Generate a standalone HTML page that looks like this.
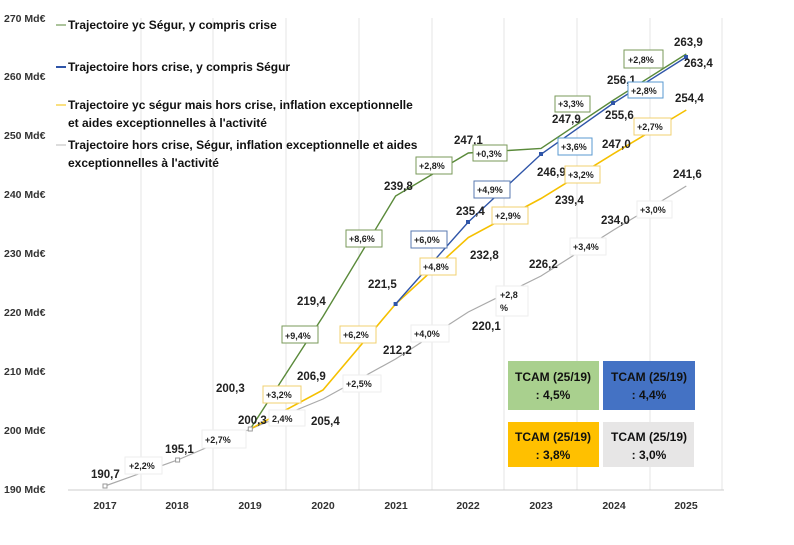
<!DOCTYPE html>
<html><head><meta charset="utf-8"><style>
body{margin:0;background:#fff;}
svg{display:block;font-family:"Liberation Sans",sans-serif;}
.v{font-size:11.5px;font-weight:bold;fill:#222;}
.p{font-size:9px;font-weight:bold;fill:#222;}
.ax{font-size:10.5px;font-weight:bold;fill:#333;}
.lg{font-size:12px;font-weight:bold;fill:#111;}
</style></head><body>
<svg width="794" height="545" viewBox="0 0 794 545">
<g stroke="#e4e4e4" stroke-width="1">
<line x1="141" y1="18" x2="141" y2="490"/><line x1="213" y1="18" x2="213" y2="490"/><line x1="286" y1="18" x2="286" y2="490"/><line x1="359" y1="18" x2="359" y2="490"/><line x1="432" y1="18" x2="432" y2="490"/><line x1="504" y1="18" x2="504" y2="490"/><line x1="577" y1="18" x2="577" y2="490"/><line x1="650" y1="18" x2="650" y2="490"/><line x1="722" y1="18" x2="722" y2="490"/>
</g>
<line x1="68" y1="490" x2="724" y2="490" stroke="#ccc"/>
<g class="ax">
<text x="4" y="22">270 Md€</text><text x="4" y="80">260 Md€</text><text x="4" y="139">250 Md€</text><text x="4" y="198">240 Md€</text><text x="4" y="257">230 Md€</text><text x="4" y="316">220 Md€</text><text x="4" y="375">210 Md€</text><text x="4" y="434">200 Md€</text><text x="4" y="493">190 Md€</text>
<g text-anchor="middle"><text x="105" y="509">2017</text><text x="177" y="509">2018</text><text x="250" y="509">2019</text><text x="323" y="509">2020</text><text x="396" y="509">2021</text><text x="468" y="509">2022</text><text x="541" y="509">2023</text><text x="614" y="509">2024</text><text x="686" y="509">2025</text></g>
</g>
<!-- legend -->
<line x1="56" y1="25" x2="66" y2="25" stroke="#5a8a3a"/><text class="lg" x="68" y="29">Trajectoire yc  Ségur, y compris crise</text>
<line x1="56" y1="67" x2="66" y2="67" stroke="#2f55a8" stroke-width="2"/><text class="lg" x="68" y="71">Trajectoire hors crise,  y compris  Ségur</text>
<line x1="56" y1="105" x2="66" y2="105" stroke="#f5c000"/><text class="lg" x="68" y="109">Trajectoire yc ségur mais hors crise, inflation exceptionnelle</text><text class="lg" x="68" y="127">et aides exceptionnelles à l'activité</text>
<line x1="56" y1="145" x2="66" y2="145" stroke="#bbb"/><text class="lg" x="68" y="149">Trajectoire hors crise, Ségur, inflation exceptionnelle et aides</text><text class="lg" x="68" y="167">exceptionnelles à l'activité</text>
<!-- series -->
<polyline fill="none" stroke="#aaa" stroke-width="1.2" points="105,486 177.6,460 250.3,429 323,399 395.6,359 468.3,312 541,276 613.6,230 686.3,186"/>
<polyline fill="none" stroke="#f5c000" stroke-width="1.6" points="250.3,429 323,390 395.6,304 468.3,237.5 541,198.5 613.6,153.7 686.3,110"/>
<polyline fill="none" stroke="#2f55a8" stroke-width="1.4" points="395.6,304 468.3,222 541,154.3 613.6,103 686.3,57"/>
<polyline fill="none" stroke="#5a8a3a" stroke-width="1.4" points="250.3,429 323,316.5 395.6,196 468.3,153 541,148.4 613.6,100 686.3,54"/>
<g fill="#2f55a8"><rect x="466" y="220" width="4" height="4"/><rect x="539" y="152" width="4" height="4"/><rect x="611" y="101" width="4" height="4"/><rect x="684" y="55" width="4" height="4"/><rect x="393.6" y="302" width="4" height="4"/></g>
<g fill="#fff" stroke="#999"><rect x="103" y="484" width="4" height="4"/><rect x="175.6" y="458" width="4" height="4"/><rect x="248.3" y="427" width="4" height="4"/></g>
<!-- value labels -->
<g class="v">
<text x="91" y="478">190,7</text><text x="165" y="453">195,1</text><text x="216" y="392">200,3</text><text x="238" y="424">200,3</text>
<text x="297" y="305">219,4</text><text x="297" y="380">206,9</text><text x="311" y="425">205,4</text>
<text x="384" y="190">239,8</text><text x="368" y="288">221,5</text><text x="383" y="354">212,2</text>
<text x="454" y="144">247,1</text><text x="456" y="215">235,4</text><text x="470" y="259">232,8</text><text x="472" y="330">220,1</text>
<text x="552" y="123">247,9</text><text x="537" y="176">246,9</text><text x="555" y="204">239,4</text><text x="529" y="268">226,2</text>
<text x="607" y="84">256,1</text><text x="605" y="119">255,6</text><text x="602" y="148">247,0</text><text x="601" y="224">234,0</text>
<text x="674" y="46">263,9</text><text x="684" y="67">263,4</text><text x="675" y="102">254,4</text><text x="673" y="178">241,6</text>
</g>
<!-- percent boxes -->
<g class="p">
<rect x="125" y="457" width="37" height="17" fill="#fff" stroke="#eee"/><text x="129" y="469">+2,2%</text>
<rect x="202" y="430" width="44" height="18" fill="#fff" stroke="#eee"/><text x="205" y="443">+2,7%</text>
<rect x="263" y="386" width="38" height="17" fill="#fff" stroke="#f0d070"/><text x="266" y="398">+3,2%</text>
<rect x="269" y="410" width="36" height="16" fill="#fff" stroke="#eee"/><text x="272" y="422">2,4%</text>
<rect x="282" y="326" width="36" height="17" fill="#fff" stroke="#7a9a5a"/><text x="285" y="339">+9,4%</text>
<rect x="340" y="326" width="36" height="17" fill="#fff" stroke="#f0d070"/><text x="343" y="338">+6,2%</text>
<rect x="343" y="375" width="38" height="17" fill="#fff" stroke="#eee"/><text x="346" y="387">+2,5%</text>
<rect x="346" y="230" width="36" height="17" fill="#fff" stroke="#7a9a5a"/><text x="349" y="242">+8,6%</text>
<rect x="411" y="231" width="36" height="17" fill="#fff" stroke="#5a7ab0"/><text x="414" y="243">+6,0%</text>
<rect x="420" y="258" width="36" height="17" fill="#fff" stroke="#f0d070"/><text x="423" y="270">+4,8%</text>
<rect x="411" y="325" width="38" height="17" fill="#fff" stroke="#eee"/><text x="414" y="337">+4,0%</text>
<rect x="416" y="157" width="36" height="17" fill="#fff" stroke="#7a9a5a"/><text x="419" y="169">+2,8%</text>
<rect x="473" y="145" width="34" height="16" fill="#fff" stroke="#7a9a5a"/><text x="476" y="157">+0,3%</text>
<rect x="474" y="181" width="36" height="17" fill="#fff" stroke="#5a7ab0"/><text x="477" y="193">+4,9%</text>
<rect x="492" y="207" width="36" height="17" fill="#fff" stroke="#f0d070"/><text x="495" y="219">+2,9%</text>
<rect x="496" y="286" width="32" height="30" fill="#fff" stroke="#eee"/><text x="500" y="298">+2,8</text><text x="500" y="311">%</text>
<rect x="555" y="96" width="35" height="16" fill="#fff" stroke="#7a9a5a"/><text x="558" y="107">+3,3%</text>
<rect x="558" y="138" width="34" height="17" fill="#fff" stroke="#5a9ad0"/><text x="561" y="150">+3,6%</text>
<rect x="565" y="166" width="35" height="17" fill="#fff" stroke="#f0d070"/><text x="568" y="178">+3,2%</text>
<rect x="570" y="238" width="36" height="17" fill="#fff" stroke="#eee"/><text x="573" y="250">+3,4%</text>
<rect x="624" y="50" width="39" height="18" fill="#fff" stroke="#7a9a5a"/><text x="628" y="63">+2,8%</text>
<rect x="628" y="82" width="35" height="16" fill="#fff" stroke="#5a9ad0"/><text x="631" y="94">+2,8%</text>
<rect x="634" y="118" width="37" height="17" fill="#fff" stroke="#f0d070"/><text x="637" y="130">+2,7%</text>
<rect x="637" y="201" width="35" height="17" fill="#fff" stroke="#eee"/><text x="640" y="213">+3,0%</text>
</g>
<!-- TCAM boxes -->
<rect x="508" y="361" width="91" height="49" fill="#a9d08e"/>
<rect x="603" y="361" width="92" height="49" fill="#4472c4"/>
<rect x="508" y="422" width="91" height="45" fill="#ffc000"/>
<rect x="603" y="422" width="91" height="45" fill="#e7e6e6"/>
<g class="lg" text-anchor="middle" font-size="11.5">
<text x="553" y="381">TCAM (25/19)</text><text x="553" y="399">: 4,5%</text>
<text x="649" y="381">TCAM (25/19)</text><text x="649" y="399">: 4,4%</text>
<text x="553" y="441">TCAM (25/19)</text><text x="553" y="459">: 3,8%</text>
<text x="649" y="441">TCAM (25/19)</text><text x="649" y="459">: 3,0%</text>
</g>
</svg>
</body></html>
